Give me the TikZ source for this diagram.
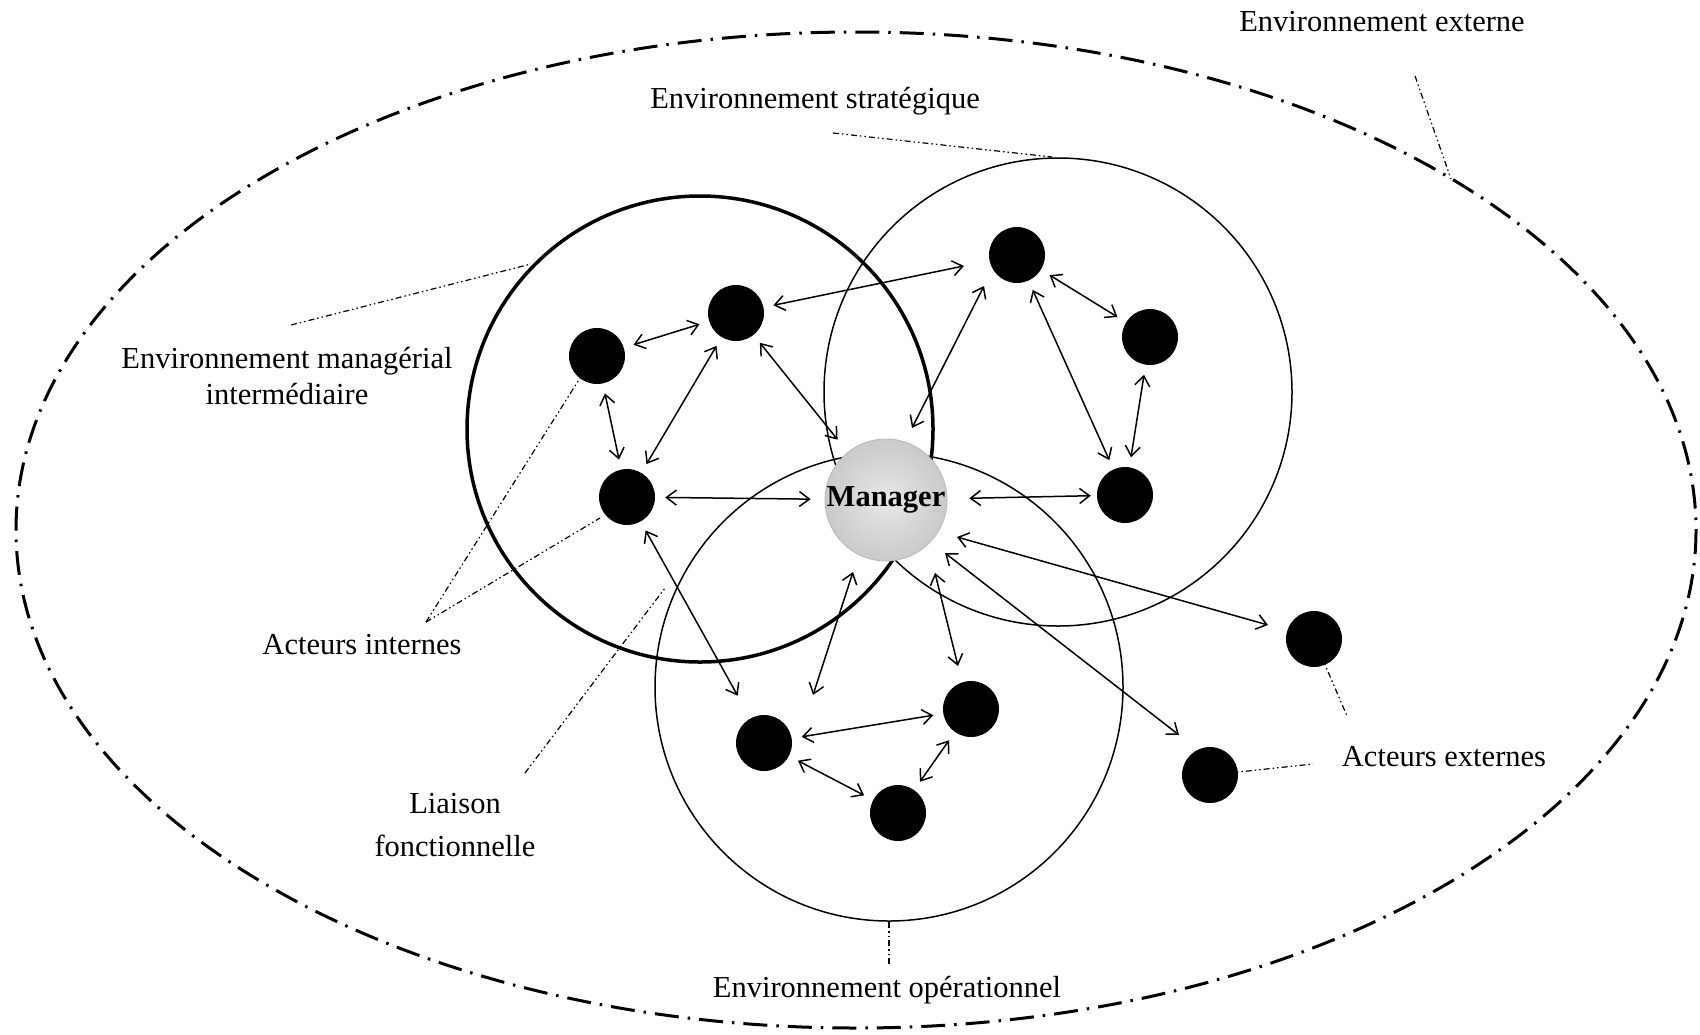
\documentclass[tikz,border=0pt]{standalone}
\usepackage{fontspec}
\setmainfont{Liberation Serif}
\usetikzlibrary{arrows.meta,calc}
\begin{document}
\begin{tikzpicture}[x=1pt,y=-1pt,
  lbl/.style={font=\fontsize{30.5}{36}\selectfont, inner sep=0pt, align=center},
  actor/.style={circle, fill=black, minimum size=56pt, inner sep=0pt},
  mgr/.style={circle, minimum size=122pt, inner sep=0pt, shading=radial, inner color=gray!18, outer color=gray!42, draw=gray!55, line width=0.8pt, font=\fontsize{30.5}{36}\selectfont\bfseries},
  rel/.style={line width=1.5pt, {Straight Barb[length=10pt,width=15pt]}-{Straight Barb[length=10pt,width=15pt]}, shorten <=10pt, shorten >=10pt},
  relx/.style={rel, shorten <=0pt, shorten >=0pt},
  leader/.style={line width=1.2pt, dash pattern=on 6pt off 3pt on 1.5pt off 3pt on 1.5pt off 3pt},
  envcircle/.style={line width=1.5pt},
]
\useasboundingbox (0,0) rectangle (1700,1034);
% outer environment
\draw[line width=3pt, dash pattern=on 24pt off 9pt on 2.5pt off 9pt] (856,530) ellipse [x radius=840, y radius=498];
% circles
\draw[line width=3.5pt] (700,429) circle [radius=233];
\draw[envcircle] (1058,392) circle [radius=234];
\draw[envcircle] (889,687) circle [radius=234];
% actors
\node[mgr] (M) at (886,500) {Manager};
\node[actor] (A1) at (597,356) {};
\node[actor] (A2) at (736,313) {};
\node[actor] (A3) at (627,497) {};
\node[actor] (S1) at (1017,255) {};
\node[actor] (S2) at (1150,337) {};
\node[actor] (S3) at (1125,495) {};
\node[actor] (O1) at (764,743) {};
\node[actor] (O2) at (971,709) {};
\node[actor] (O3) at (898,813) {};
\node[actor] (E1) at (1314,639) {};
\node[actor] (E2) at (1210,775) {};
% relations
\draw[rel] (A1) -- (A2);
\draw[rel] (A1) -- (A3);
\draw[rel] (A3) -- (A2);
\draw[rel, shorten >=16pt] (A2) -- (M);
\draw[rel, shorten >=14pt] (A3) -- (M);
\draw[rel, shorten >=26pt] (A2) -- (S1);
\draw[relx] ($(M)+(26,-72)$) -- ($(S1)+(-33,31)$);
\draw[rel] (S1) -- (S2);
\draw[rel] (S1) -- (S3);
\draw[rel] (S2) -- (S3);
\draw[rel, shorten <=22pt, shorten >=6pt] (M) -- (S3);
\draw[relx] ($(M)+(-33,72)$) -- ($(O1)+(49,-48)$);
\draw[relx] ($(M)+(49,73)$) -- ($(O2)+(-13,-43)$);
\draw[rel] (O1) -- (O2);
\draw[rel] (O1) -- (O3);
\draw[rel] (O2) -- (O3);
\draw[rel, shorten >=26pt] (A3) -- (O1);
\draw[relx] ($(M)+(71,37)$) -- ($(E1)+(-46,-14)$);
\draw[relx] ($(M)+(59,53)$) -- ($(E2)+(-31,-40)$);
% labels
\node[lbl] (Lext) at (1382,22) {Environnement externe};
\node[lbl] (Lstr) at (815,101) {Environnement stratégique};
\node[lbl] (Lman) at (287,376) {Environnement managérial\\intermédiaire};
\node[lbl] (Lint) at (362,645) {Acteurs internes};
\node[lbl] (Llia) at (455,825) {Liaison\\[7pt]fonctionnelle};
\node[lbl] (Lop) at (887,990) {Environnement opérationnel};
\node[lbl] (Lextr) at (1444,757) {Acteurs externes};
% leader line ends
\coordinate (cext1) at (1415,76);
\coordinate (cext2) at (1451,179);
\coordinate (cstr1) at (833,133);
\coordinate (cstr2) at (1052,157);
\coordinate (cman1) at (291,325);
\coordinate (cman2) at (531,264);
\coordinate (cint) at (426,622);
\coordinate (cintA1) at (580,378);
\coordinate (cintA3) at (600,518);
\coordinate (clia1) at (525,773);
\coordinate (clia2) at (665,588);
\coordinate (cop1) at (889,922);
\coordinate (cop2) at (889,965);
\coordinate (cex1) at (1347,716);
\coordinate (cex2) at (1313,764);
% leader lines
\draw[leader] (cext1) -- (cext2);
\draw[leader] (cstr1) -- (cstr2);
\draw[leader] (cman1) -- (cman2);
\draw[leader] (cint) -- (cintA1);
\draw[leader] (cint) -- (cintA3);
\draw[leader] (clia1) -- (clia2);
\draw[leader] (cop1) -- (cop2);
\draw[leader] (E1.center) -- (cex1);
\draw[leader] (E2.center) -- (cex2);
\end{tikzpicture}
\end{document}
